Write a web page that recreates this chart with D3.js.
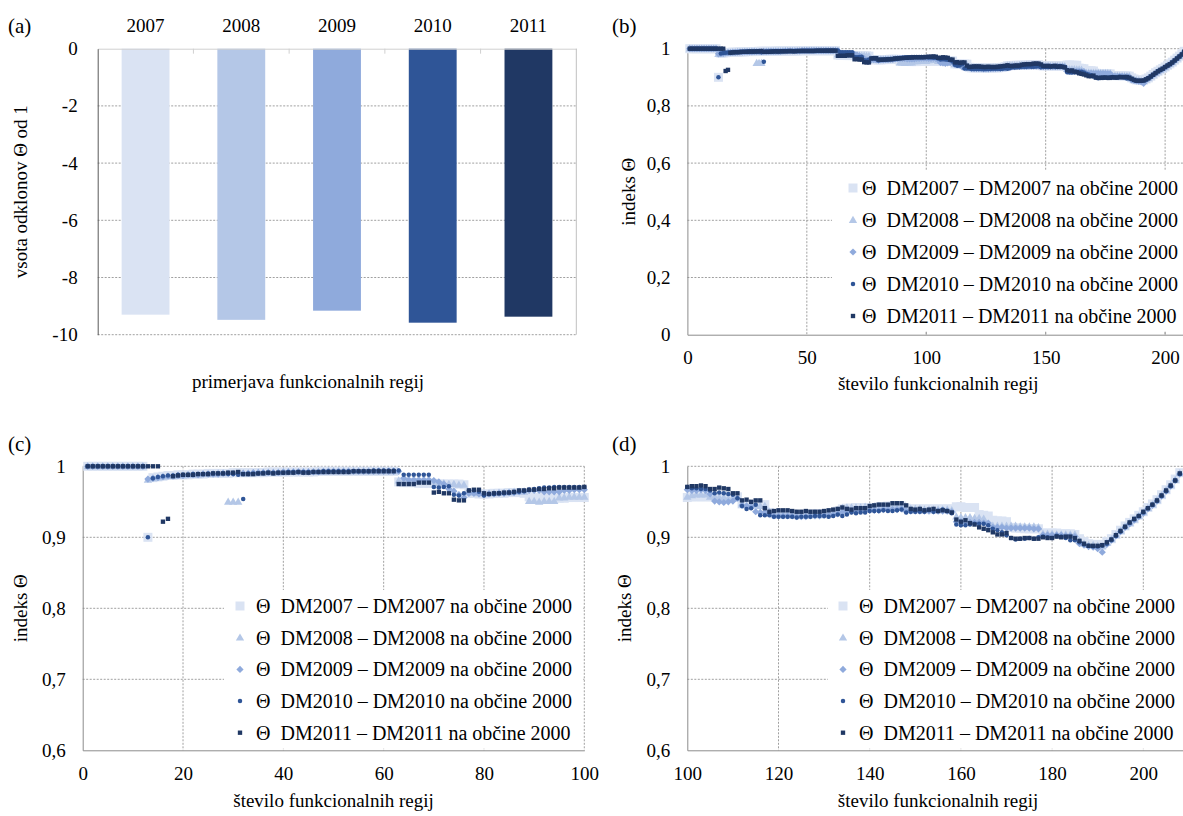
<!DOCTYPE html>
<html><head><meta charset="utf-8">
<script src="https://cdn.jsdelivr.net/npm/d3@7"></script>
<style>
body{margin:0;background:#fff}
svg{display:block}
svg text{font-family:"Liberation Serif","Times New Roman",Tinos,"DejaVu Serif",serif !important;fill:#000}
</style>
</head><body>
<svg id="c" width="1183" height="816"></svg>
<script>
// ---------------- DATA ----------------
const years = ['2007','2008','2009','2010','2011'];
const barValues = [-9.30,-9.48,-9.16,-9.58,-9.37];
const seriesLabels = [
  'Θ  DM2007 – DM2007 na občine 2000',
  'Θ  DM2008 – DM2008 na občine 2000',
  'Θ  DM2009 – DM2009 na občine 2000',
  'Θ  DM2010 – DM2010 na občine 2000',
  'Θ  DM2011 – DM2011 na občine 2000'
];
const yTicksA = [0,-2,-4,-6,-8,-10];
const xTicksB = [0,50,100,150,200];
const yTicksB = [0,0.2,0.4,0.6,0.8,1];
const xTicksC = [0,20,40,60,80,100];
const xTicksD = [100,120,140,160,180,200];
const yTicksCD = [0.6,0.7,0.8,0.9,1];

const s2007 = [
1,1,1,1,1,1,1,1,1,1,
1,1,0.900,0.984,0.985,0.986,0.987,0.987,0.988,0.988,
0.988,0.989,0.989,0.989,0.990,0.990,0.990,0.990,0.990,0.991,
0.991,0.991,0.991,0.991,0.991,0.991,0.992,0.992,0.992,0.992,
0.992,0.992,0.992,0.992,0.992,0.992,0.993,0.993,0.993,0.993,
0.993,0.993,0.993,0.993,0.993,0.993,0.993,0.993,0.993,0.993,
0.993,0.993,0.978,0.977,0.977,0.977,0.976,0.976,0.976,0.976,
0.975,0.975,0.975,0.975,0.975,0.974,0.962,0.962,0.961,0.961,
0.961,0.962,0.962,0.962,0.963,0.963,0.963,0.962,0.957,0.956,
0.956,0.956,0.956,0.955,0.955,0.955,0.956,0.956,0.956,0.956,
0.957,0.957,0.957,0.957,0.957,0.957,0.957,0.958,0.958,0.958,
0.957,0.947,0.947,0.946,0.946,0.946,0.946,0.935,0.933,0.933,
0.933,0.933,0.933,0.932,0.932,0.932,0.933,0.933,0.933,0.933,
0.934,0.935,0.937,0.940,0.941,0.941,0.942,0.942,0.942,0.942,
0.942,0.943,0.943,0.944,0.944,0.944,0.944,0.941,0.940,0.940,
0.940,0.940,0.940,0.940,0.940,0.940,0.940,0.940,0.943,0.943,
0.942,0.942,0.942,0.932,0.931,0.930,0.924,0.923,0.923,0.922,
0.914,0.913,0.913,0.912,0.912,0.912,0.912,0.906,0.906,0.906,
0.906,0.905,0.905,0.905,0.904,0.898,0.894,0.891,0.890,0.890,
0.890,0.894,0.898,0.904,0.910,0.916,0.921,0.926,0.931,0.936,
0.942,0.947,0.953,0.960,0.967,0.974,0.982,0.991];

const s2008 = [
1,1,1,1,1,1,1,1,1,1,
1,1,0.981,0.983,0.984,0.985,0.986,0.986,0.987,0.987,
0.988,0.988,0.988,0.989,0.989,0.989,0.990,0.990,0.950,0.950,
0.950,0.990,0.990,0.990,0.991,0.991,0.991,0.991,0.991,0.991,
0.992,0.992,0.992,0.992,0.992,0.992,0.992,0.992,0.993,0.993,
0.993,0.993,0.993,0.993,0.993,0.993,0.993,0.993,0.993,0.993,
0.993,0.993,0.980,0.980,0.980,0.979,0.979,0.979,0.979,0.978,
0.976,0.976,0.975,0.975,0.974,0.974,0.963,0.963,0.962,0.962,
0.962,0.962,0.963,0.963,0.963,0.964,0.964,0.964,0.951,0.951,
0.950,0.951,0.951,0.951,0.956,0.956,0.957,0.957,0.957,0.957,
0.959,0.960,0.960,0.960,0.957,0.957,0.956,0.956,0.955,0.955,
0.955,0.946,0.945,0.945,0.945,0.944,0.944,0.936,0.934,0.934,
0.934,0.934,0.933,0.933,0.933,0.933,0.933,0.934,0.934,0.934,
0.935,0.936,0.938,0.941,0.942,0.942,0.942,0.942,0.943,0.943,
0.943,0.944,0.944,0.944,0.944,0.944,0.944,0.941,0.940,0.940,
0.940,0.939,0.939,0.939,0.939,0.939,0.939,0.938,0.929,0.928,
0.928,0.928,0.927,0.927,0.926,0.917,0.916,0.916,0.916,0.916,
0.916,0.916,0.915,0.915,0.915,0.915,0.914,0.905,0.905,0.905,
0.904,0.904,0.904,0.904,0.904,0.895,0.891,0.889,0.889,0.888,
0.887,0.892,0.897,0.903,0.909,0.915,0.920,0.925,0.930,0.935,
0.941,0.946,0.952,0.959,0.966,0.973,0.981,0.990];

const s2009 = [
1,1,1,1,1,1,1,1,1,1,
1,1,0.982,0.983,0.984,0.985,0.986,0.986,0.987,0.987,
0.988,0.988,0.988,0.989,0.989,0.989,0.989,0.990,0.990,0.990,
0.990,0.990,0.990,0.991,0.991,0.991,0.991,0.991,0.991,0.992,
0.992,0.992,0.992,0.992,0.992,0.992,0.992,0.993,0.993,0.993,
0.993,0.993,0.993,0.993,0.993,0.993,0.993,0.993,0.993,0.993,
0.993,0.993,0.993,0.983,0.981,0.981,0.981,0.981,0.981,0.980,
0.978,0.975,0.968,0.965,0.960,0.956,0.962,0.962,0.961,0.960,
0.961,0.961,0.962,0.962,0.963,0.963,0.964,0.965,0.966,0.966,
0.966,0.964,0.964,0.964,0.964,0.966,0.966,0.967,0.967,0.967,
0.966,0.966,0.967,0.966,0.961,0.951,0.950,0.949,0.950,0.951,
0.955,0.945,0.944,0.943,0.936,0.935,0.935,0.934,0.930,0.930,
0.930,0.930,0.930,0.929,0.929,0.929,0.930,0.930,0.930,0.931,
0.931,0.932,0.933,0.935,0.936,0.937,0.937,0.938,0.938,0.938,
0.938,0.938,0.939,0.939,0.939,0.939,0.940,0.937,0.937,0.937,
0.937,0.937,0.937,0.937,0.937,0.937,0.937,0.936,0.922,0.922,
0.921,0.921,0.921,0.921,0.920,0.920,0.914,0.914,0.914,0.913,
0.913,0.913,0.913,0.913,0.913,0.912,0.912,0.903,0.903,0.903,
0.903,0.903,0.902,0.902,0.901,0.891,0.889,0.887,0.886,0.884,
0.879,0.890,0.896,0.902,0.908,0.914,0.919,0.924,0.929,0.934,
0.940,0.945,0.951,0.958,0.965,0.972,0.980,0.989];

const s2010 = [
1,1,1,1,1,1,1,1,1,1,
1,1,0.900,0.983,0.985,0.986,0.987,0.987,0.988,0.988,
0.988,0.989,0.989,0.989,0.990,0.990,0.990,0.990,0.989,0.989,
0.988,0.954,0.990,0.990,0.990,0.991,0.991,0.991,0.991,0.991,
0.992,0.992,0.992,0.992,0.992,0.992,0.992,0.993,0.993,0.993,
0.993,0.993,0.993,0.993,0.993,0.993,0.993,0.994,0.994,0.994,
0.994,0.994,0.994,0.988,0.988,0.988,0.988,0.988,0.988,0.971,
0.970,0.971,0.972,0.960,0.959,0.962,0.966,0.966,0.964,0.959,
0.961,0.961,0.962,0.962,0.963,0.963,0.964,0.965,0.967,0.968,
0.969,0.970,0.970,0.971,0.971,0.971,0.971,0.971,0.971,0.971,
0.969,0.969,0.968,0.968,0.966,0.962,0.963,0.962,0.961,0.960,
0.955,0.944,0.940,0.941,0.946,0.931,0.931,0.931,0.929,0.929,
0.929,0.929,0.929,0.928,0.929,0.929,0.929,0.930,0.930,0.930,
0.929,0.930,0.932,0.930,0.932,0.935,0.934,0.935,0.935,0.937,
0.937,0.937,0.938,0.937,0.937,0.938,0.939,0.935,0.936,0.936,
0.936,0.936,0.938,0.936,0.937,0.939,0.937,0.934,0.918,0.917,
0.917,0.918,0.919,0.919,0.919,0.917,0.912,0.910,0.907,0.903,
0.899,0.897,0.898,0.898,0.899,0.898,0.900,0.901,0.900,0.899,
0.902,0.901,0.899,0.896,0.896,0.893,0.890,0.888,0.887,0.887,
0.888,0.891,0.896,0.902,0.908,0.914,0.920,0.925,0.930,0.935,
0.941,0.946,0.951,0.958,0.965,0.972,0.980,0.989];

const s2011 = [
1,1,1,1,1,1,1,1,1,1,
1,1,1,1,1,0.922,0.926,0.986,0.987,0.988,
0.988,0.988,0.989,0.989,0.989,0.990,0.990,0.990,0.991,0.991,
0.992,0.989,0.989,0.989,0.990,0.990,0.991,0.990,0.991,0.991,
0.991,0.991,0.992,0.991,0.991,0.992,0.992,0.992,0.992,0.992,
0.992,0.992,0.992,0.993,0.993,0.993,0.993,0.993,0.993,0.993,
0.993,0.993,0.975,0.975,0.975,0.975,0.977,0.977,0.977,0.963,
0.964,0.962,0.962,0.953,0.952,0.952,0.966,0.967,0.967,0.962,
0.961,0.962,0.962,0.963,0.963,0.964,0.966,0.966,0.967,0.967,
0.968,0.968,0.969,0.969,0.970,0.970,0.970,0.970,0.970,0.971,
0.972,0.972,0.973,0.972,0.968,0.968,0.970,0.969,0.968,0.962,
0.962,0.952,0.953,0.950,0.952,0.952,0.941,0.936,0.937,0.938,
0.938,0.938,0.937,0.936,0.936,0.937,0.936,0.936,0.936,0.937,
0.938,0.939,0.940,0.942,0.940,0.939,0.941,0.941,0.941,0.944,
0.945,0.946,0.946,0.946,0.948,0.948,0.948,0.945,0.940,0.939,
0.940,0.938,0.939,0.940,0.937,0.938,0.937,0.935,0.925,0.922,
0.924,0.920,0.918,0.914,0.912,0.910,0.907,0.904,0.904,0.906,
0.899,0.898,0.898,0.899,0.899,0.898,0.898,0.900,0.899,0.899,
0.901,0.900,0.901,0.901,0.899,0.895,0.891,0.888,0.888,0.888,
0.889,0.893,0.897,0.903,0.909,0.915,0.921,0.926,0.930,0.936,
0.941,0.946,0.952,0.959,0.966,0.973,0.980,0.990];

// ---------------- STYLE ----------------
const colors = ['#dae3f3','#b4c7e7','#8faadc','#2f5597','#203864'];
const GRID = '#a0a0a0';
const AXIS = '#8c8c8c';
const FS = 19;
const LFS = 20;
const FONT = '"Liberation Serif","Times New Roman",Tinos,"DejaVu Serif",serif';

const squareT = {draw(c,size){const s=Math.sqrt(size)/2;c.moveTo(-s,-s);c.lineTo(s,-s);c.lineTo(s,s);c.lineTo(-s,s);c.closePath();}};
const diamondT = {draw(c,size){const r=Math.sqrt(size/2);c.moveTo(0,-r);c.lineTo(r,0);c.lineTo(0,r);c.lineTo(-r,0);c.closePath();}};
const triT = {draw(c,size){const s=Math.sqrt(size/0.433);const h=s*0.866;c.moveTo(0,-h*0.6);c.lineTo(s/2,h*0.4);c.lineTo(-s/2,h*0.4);c.closePath();}};
const markers = [
  d3.symbol().type(squareT).size(81),
  d3.symbol().type(triT).size(30),
  d3.symbol().type(diamondT).size(26),
  d3.symbol().type(d3.symbolCircle).size(16),
  d3.symbol().type(squareT).size(19)
];
const allSeries = [s2007,s2008,s2009,s2010,s2011];

const svg = d3.select('#c');

function label(x,y,s,anchor,size){
  return svg.append('text').attr('x',x).attr('y',y).attr('text-anchor',anchor||'start')
    .attr('dominant-baseline','central').attr('font-family',FONT).style('font-size',(size||FS)+'px').text(s);
}
function vlabel(x,y,s){
  svg.append('text').attr('transform',`translate(${x},${y}) rotate(-90)`)
    .attr('text-anchor','middle').attr('dominant-baseline','central').attr('font-family',FONT)
    .style('font-size',FS+'px').text(s);
}
const fmtDec = v => v===1?'1':(v===0?'0':d3.format('.1f')(v).replace('.',','));
const fmtInt = v => String(v);
function styleAxisText(ax){
  ax.attr('font-family',FONT).attr('font-size',FS);
  ax.selectAll('text').attr('font-family',FONT).style('font-size',FS+'px').attr('fill','#000');
}

// ---------------- PANEL (a) ----------------
(function(){
  const x0=97.7,x1=576.3,y0=48.7,y1=334.7;
  const x = d3.scaleBand().domain(years).range([x0,x1]).paddingInner(0.5).paddingOuter(0.25);
  const y = d3.scaleLinear().domain([-10,0]).range([y1,y0]);
  const g = svg.append('g');
  g.selectAll(null).data(yTicksA.filter(v=>v!==0)).enter().append('line')
    .attr('x1',x0).attr('x2',x1).attr('y1',d=>y(d)).attr('y2',d=>y(d))
    .attr('stroke',GRID).attr('stroke-dasharray','2,1.5');
  g.selectAll(null).data(barValues).enter().append('rect')
    .attr('x',(d,i)=>x(years[i])).attr('width',x.bandwidth())
    .attr('y',y(0)).attr('height',d=>y(d)-y(0))
    .attr('fill',(d,i)=>colors[i]);
  const ax = g.append('g').attr('transform',`translate(0,${y0})`)
    .call(d3.axisTop(x).tickSize(0).tickPadding(17));
  ax.select('.domain').attr('stroke','#d0d0d0');
  styleAxisText(ax);
  g.selectAll(null).data(years.slice(1)).enter().append('line')
    .attr('x1',d=>x(d)-x.step()*0.25).attr('x2',d=>x(d)-x.step()*0.25)
    .attr('y1',y0).attr('y2',y0+5).attr('stroke','#d0d0d0');
  g.append('line').attr('x1',x1).attr('x2',x1).attr('y1',y0).attr('y2',y1).attr('stroke','#c0c0c0');
  const ay = g.append('g').attr('transform',`translate(${x0},0)`)
    .call(d3.axisLeft(y).tickValues(yTicksA).tickSize(0).tickPadding(20).tickFormat(fmtInt));
  ay.select('.domain').attr('stroke','#595959');
  styleAxisText(ay);
  vlabel(20,(y0+y1)/2,'vsota odklonov Θ od 1');
  label(308,381,'primerjava funkcionalnih regij','middle');
  label(8,26,'(a)','start',21);
})();

// ---------------- SCATTER PANELS ----------------
function scatter(p){
  const x = d3.scaleLinear().domain(p.xd).range([p.x0,p.x1]);
  const y = d3.scaleLinear().domain(p.yd).range([p.y1,p.y0]);
  const g = svg.append('g');
  g.selectAll(null).data(p.yt.filter(v=>v!==p.yd[0])).enter().append('line')
    .attr('x1',p.x0).attr('x2',p.x1).attr('y1',d=>y(d)).attr('y2',d=>y(d))
    .attr('stroke',GRID).attr('stroke-dasharray','2,1.5');
  g.selectAll(null).data(p.xt.filter(v=>v!==p.xd[0])).enter().append('line')
    .attr('x1',d=>x(d)).attr('x2',d=>x(d)).attr('y1',p.y0).attr('y2',p.y1)
    .attr('stroke',GRID).attr('stroke-dasharray','2,1.5');
  const axX = g.append('g').attr('transform',`translate(0,${p.y1})`)
    .call(d3.axisBottom(x).tickValues(p.xt).tickSize(0).tickPadding(p.xpad).tickFormat(fmtInt));
  axX.select('.domain').attr('stroke',AXIS);
  styleAxisText(axX);
  const axY = g.append('g').attr('transform',`translate(${p.x0},0)`)
    .call(d3.axisLeft(y).tickValues(p.yt).tickSize(0).tickPadding(17).tickFormat(fmtDec));
  axY.select('.domain').attr('stroke',AXIS);
  styleAxisText(axY);
  allSeries.forEach((s,si)=>{
    const pts = s.map((v,i)=>({x:i+1,v})).filter(d=>d.x>=p.xd[0] && d.x<=p.xmax);
    g.append('g').selectAll('path').data(pts).enter().append('path')
      .attr('transform',d=>`translate(${x(d.x)},${y(d.v)})`)
      .attr('d',markers[si]()).attr('fill',colors[si]);
  });
  const L = p.legend;
  g.append('rect').attr('x',L.x).attr('y',L.y).attr('width',L.w).attr('height',L.h).attr('fill','#fff');
  if(p.axisTicks){
    g.selectAll(null).data(p.xt.filter(v=>x(v)>L.x && v!==p.xd[0])).enter().append('line')
      .attr('x1',d=>x(d)).attr('x2',d=>x(d)).attr('y1',p.y1-3).attr('y2',p.y1).attr('stroke',GRID);
  }
  seriesLabels.forEach((t,i)=>{
    const yy = L.rows[i];
    g.append('path').attr('transform',`translate(${L.mx},${yy})`).attr('d',markers[i]()).attr('fill',colors[i]);
    g.append('text').attr('x',L.tx).attr('y',yy).attr('dominant-baseline','central').attr('font-family',FONT)
      .style('font-size',LFS+'px').style('white-space','pre').text(t);
  });
  label(p.lx,p.ly,p.letter,'start',21);
  vlabel(p.yTitleX,(p.y0+p.y1)/2,'indeks Θ');
  label((p.x0+p.x1)/2,p.xTitleY,'število funkcionalnih regij','middle');
}

scatter({x0:687.4,x1:1189,y0:48.7,y1:334.7,xd:[0,210],xmax:210,yd:[0,1],xt:xTicksB,yt:yTicksB,xpad:16,
  legend:{x:832,y:170,w:360,h:162,mx:853,tx:862,rows:[188,220,252,284,316]},axisTicks:true,
  letter:'(b)',lx:612,ly:26,yTitleX:628,xTitleY:383});
scatter({x0:82.7,x1:584.3,y0:466.3,y1:750.3,xd:[0,100],xmax:100,yd:[0.6,1],xt:xTicksC,yt:yTicksCD,xpad:16.5,
  legend:{x:224,y:590,w:358,h:158,mx:240,tx:256,rows:[606,637.7,669.4,701,732.7]},
  letter:'(c)',lx:8,ly:444,yTitleX:20,xTitleY:800});
scatter({x0:687.3,x1:1188.9,y0:466.3,y1:750.3,xd:[100,210],xmax:210,yd:[0.6,1],xt:xTicksD,yt:yTicksCD,xpad:16.5,
  legend:{x:828,y:590,w:360,h:158,mx:843,tx:859,rows:[606,637.7,669.4,701,732.7]},
  letter:'(d)',lx:612,ly:444,yTitleX:624,xTitleY:800});
</script>
</body></html>
